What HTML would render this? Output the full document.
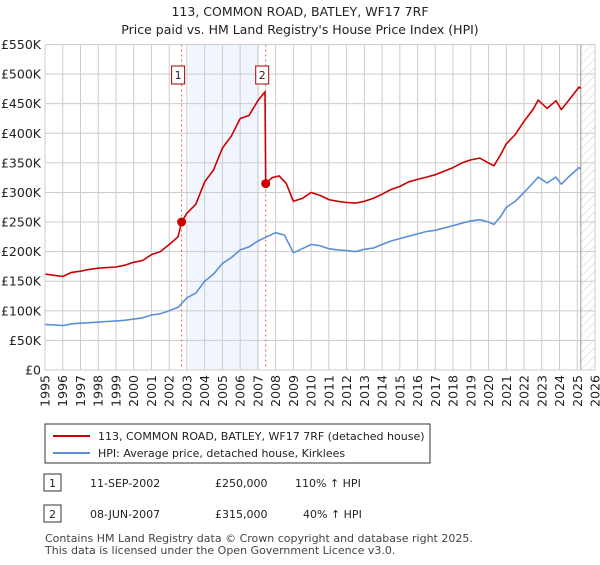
<!DOCTYPE html>
<html><head><meta charset="utf-8"><style>
body{margin:0;background:#fff;font-family:"Liberation Sans","DejaVu Sans",sans-serif;}
svg text{font-family:"DejaVu Sans","Liberation Sans",sans-serif;}
</style></head><body>
<svg id="c" width="600" height="560" xmlns="http://www.w3.org/2000/svg">
<defs><pattern id="hatch" width="6" height="6" patternUnits="userSpaceOnUse" patternTransform="rotate(45)"><line x1="0" y1="0" x2="0" y2="6" stroke="#ccc" stroke-width="1"/></pattern></defs>
<text x="300" y="16" text-anchor="middle" font-size="12.5" fill="#222">113, COMMON ROAD, BATLEY, WF17 7RF</text>
<text x="300" y="34" text-anchor="middle" font-size="12.5" fill="#222">Price paid vs. HM Land Registry's House Price Index (HPI)</text>
<g id="plot"></g>
<rect x="45" y="424" width="385" height="39" fill="#fff" stroke="#333"/>
<line x1="53" y1="436" x2="90" y2="436" stroke="#cc0000" stroke-width="2"/>
<text x="98" y="440" font-size="11" fill="#222">113, COMMON ROAD, BATLEY, WF17 7RF (detached house)</text>
<line x1="53" y1="453" x2="90" y2="453" stroke="#5b8fd6" stroke-width="2"/>
<text x="98" y="457" font-size="11" fill="#222">HPI: Average price, detached house, Kirklees</text>
<rect x="44" y="474" width="17" height="17" fill="#fff" stroke="#333"/>
<text x="52.5" y="487" text-anchor="middle" font-size="11" fill="#222">1</text>
<text x="90" y="487" font-size="11" fill="#222">11-SEP-2002</text>
<text x="215" y="487" font-size="11" fill="#222">£250,000</text>
<text x="295" y="487" font-size="11" fill="#222">110% ↑ HPI</text>
<rect x="44" y="505" width="17" height="17" fill="#fff" stroke="#333"/>
<text x="52.5" y="518" text-anchor="middle" font-size="11" fill="#222">2</text>
<text x="90" y="518" font-size="11" fill="#222">08-JUN-2007</text>
<text x="215" y="518" font-size="11" fill="#222">£315,000</text>
<text x="303" y="518" font-size="11" fill="#222">40% ↑ HPI</text>
<text x="45" y="542" font-size="11" fill="#444">Contains HM Land Registry data © Crown copyright and database right 2025.</text>
<text x="45" y="554" font-size="11" fill="#444">This data is licensed under the Open Government Licence v3.0.</text>
</svg>
<script>
const yTicks=[0,50,100,150,200,250,300,350,400,450,500,550];
const yTickLabels=["£0","£50K","£100K","£150K","£200K","£250K","£300K","£350K","£400K","£450K","£500K","£550K"];
const years=[1995,1996,1997,1998,1999,2000,2001,2002,2003,2004,2005,2006,2007,2008,2009,2010,2011,2012,2013,2014,2015,2016,2017,2018,2019,2020,2021,2022,2023,2024,2025,2026];
const hpiT=[1995,1995.5,1996,1996.5,1997,1997.5,1998,1998.5,1999,1999.5,2000,2000.5,2001,2001.5,2002,2002.5,2003,2003.5,2004,2004.5,2005,2005.5,2006,2006.5,2007,2007.5,2008,2008.5,2009,2009.5,2010,2010.5,2011,2011.5,2012,2012.5,2013,2013.5,2014,2014.5,2015,2015.5,2016,2016.5,2017,2017.5,2018,2018.5,2019,2019.5,2020,2020.3,2020.7,2021,2021.5,2022,2022.5,2022.8,2023.3,2023.8,2024.1,2024.5,2025.1,2025.2];
const hpiV=[77,76,75,78,79,80,81,82,83,84,86,88,93,95,100,106,122,130,150,162,180,190,203,208,218,225,232,228,198,205,212,210,205,203,202,200,204,206,212,218,222,226,230,234,236,240,244,248,252,254,250,246,260,275,285,300,316,326,316,326,314,326,342,340];
const propT=[1995,1995.5,1996,1996.5,1997,1997.5,1998,1998.5,1999,1999.5,2000,2000.5,2001,2001.5,2002,2002.5,2002.7,2003,2003.5,2004,2004.5,2005,2005.5,2006,2006.5,2007,2007.4,2007.44,2007.8,2008.2,2008.6,2009,2009.5,2010,2010.5,2011,2011.5,2012,2012.5,2013,2013.5,2014,2014.5,2015,2015.5,2016,2016.5,2017,2017.5,2018,2018.5,2019,2019.5,2020,2020.3,2020.7,2021,2021.5,2022,2022.5,2022.8,2023.3,2023.8,2024.1,2024.5,2025.1,2025.2];
const propV=[162,160,158,165,167,170,172,173,174,177,182,185,195,200,212,225,250,265,280,318,338,375,395,425,430,455,470,315,325,328,315,285,290,300,295,288,285,283,282,285,290,297,305,310,318,322,326,330,336,342,350,355,358,350,345,365,382,398,420,440,456,442,455,440,455,478,476];
const saleT=[2002.7,2007.44];
const saleV=[250,315];
const saleLabels=["1","2"];
const X0=45,X1=595,Y0=370,Y1=44.5;
const xs=t=>X0+(t-1995)/(2026-1995)*(X1-X0);
const ys=v=>Y0-v/550*(Y0-Y1);
const NS="http://www.w3.org/2000/svg";
const g=document.getElementById('plot');
function mk(tag,attrs){const e=document.createElementNS(NS,tag);for(const k in attrs)e.setAttribute(k,attrs[k]);g.appendChild(e);return e;}
let e;
e=mk('rect',{x:xs(2003.1),y:Y1,width:xs(2007.1)-xs(2003.1),height:Y0-Y1,fill:'#eef3fc',opacity:0.8});


e=mk('rect',{x:xs(2025.2),y:Y1,width:X1-xs(2025.2),height:Y0-Y1,fill:'url(#hatch)'});


yTicks.forEach((v,i)=>{
 e=mk('line',{x1:X0,x2:X1,y1:ys(v),y2:ys(v),stroke:'#ccc'});
 
 
 e=mk('text',{x:X0-4,y:ys(v)+4.5,'text-anchor':'end','font-size':12.5,fill:'#222'});
 e.textContent=yTickLabels[i];
 
 
});
years.forEach(y=>{
 e=mk('line',{x1:xs(y),x2:xs(y),y1:Y1,y2:Y0,stroke:'#ccc'});
 
 
 const lx=xs(y)+4.5, ly=375;
 e=mk('text',{x:lx,y:ly,'text-anchor':'end','font-size':12.5,fill:'#222',transform:'rotate(-90 '+lx+' '+ly+')'});
 e.textContent=y;
 
 
});
e=mk('line',{x1:xs(2025.2),x2:xs(2025.2),y1:Y1,y2:Y0,stroke:'#999','stroke-width':1});


saleT.forEach((t,i)=>{
 e=mk('line',{x1:xs(t),x2:xs(t),y1:Y1,y2:Y0,stroke:'#e06060','stroke-dasharray':'2,3'});
 
 
});
function path(T,V,col,name){
 const d=T.map((t,i)=>(i?'L':'M')+xs(t).toFixed(1)+','+ys(V[i]).toFixed(1)).join('');
 const p=mk('path',{d:d,fill:'none',stroke:col,'stroke-width':1.6,'stroke-linejoin':'round'});
 
 
}
path(hpiT,hpiV,'#5b8fd6','hpi-line');
path(propT,propV,'#cc0000','property-line');
saleT.forEach((t,i)=>{
 e=mk('circle',{cx:xs(t),cy:ys(saleV[i]),r:4.5,fill:'#cc0000'});
 
 
 e=mk('rect',{x:xs(t)-10,y:66,width:13,height:18,fill:'#fff',stroke:'#aa0000'});
 
 
 e=mk('text',{x:xs(t)-3.5,y:79,'text-anchor':'middle','font-size':11,fill:'#222'});
 e.textContent=saleLabels[i];
 
 
});
e=mk('rect',{x:X0,y:Y1,width:X1-X0,height:Y0-Y1,fill:'none',stroke:'#ccc'});


</script>
</body></html>
